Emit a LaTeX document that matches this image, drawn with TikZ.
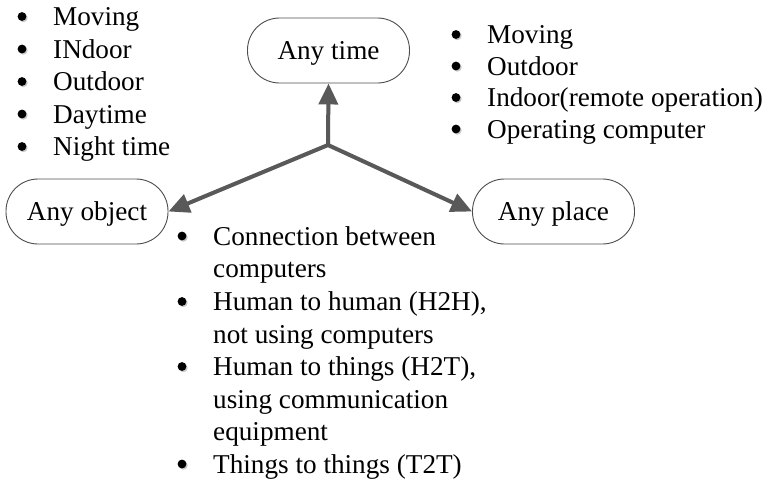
\documentclass[tikz,border=0pt]{standalone}
\usepackage{fontspec}
\setmainfont{Liberation Serif}
\usetikzlibrary{arrows.meta,calc}
\definecolor{arrowgray}{HTML}{595959}
\definecolor{shadegray}{HTML}{E4E4E4}
\definecolor{framegray}{HTML}{4D4D4D}

% bullet with a soft shadow
\newcommand{\bulletat}[2]{%
  \fill[dotshade] (#1+1.3,#2-9+1.3) circle (4.4);
  \fill[dot] (#1,#2-9) circle (4.4);}

\begin{document}
\begin{tikzpicture}[x=1pt,y=-1pt,
  every node/.style={font=\fontsize{27.2}{32}\selectfont, inner sep=0pt},
  oval/.style={draw=framegray, line width=0.9pt, rounded corners=32pt,
    minimum width=162pt, minimum height=65pt, fill=white,
    text height=20pt, text depth=3pt},
  link/.style={line width=4pt, draw=arrowgray},
  tip/.style={-{Triangle[length=21pt,width=19pt]}},
  linkshade/.style={line width=4pt, draw=shadegray},
  item/.style={anchor=base west, text=black},
  dot/.style={fill=black},
  dotshade/.style={fill=black!22},
]
\useasboundingbox (0,0) rectangle (766,482);

% the three goals
\node[oval] (time)  at (328.5,50.5)  {Any time};
\node[oval] (obj)   at (87,211.5)    {Any object};
\node[oval] (place) at (553.5,211.5) {Any place};

% junction of the three arrows
\coordinate (J) at (328,145);

% soft shadow under the arrow shafts
\begin{scope}[shift={(2.5,2.5)}]
  \draw[linkshade, line join=miter] ($(J)!0.85!(obj.east)$) -- (J) -- ($(J)!0.85!(place.west)$);
  \draw[linkshade] (J) -- ($(J)!0.65!(time.south)$);
\end{scope}

% arrows
\draw[link, line join=miter, {Triangle[length=21pt,width=19pt]}-{Triangle[length=21pt,width=19pt]}]
  (obj.east) -- (J) -- (place.west);
\draw[link, tip] (J) -- (time.south);

% list beside "Any time" (left)
\foreach \txt/\yy [count=\i] in {Moving/25.5, INdoor/58, Outdoor/90.5, Daytime/123, Night time/155.5}{
  \bulletat{22}{\yy}
  \node[item] (L\i) at (53,\yy) {\txt};
}

% list beside "Any time" (right)
\foreach \txt/\yy [count=\i] in {Moving/43.5, Outdoor/75, Indoor(remote operation)/106.5, Operating computer/138}{
  \bulletat{456}{\yy}
  \node[item] (R\i) at (487,\yy) {\txt};
}

% list below the arrows
\foreach \txt/\yy [count=\i] in {Connection between/245, computers/277.5, {Human to human (H2H),}/310.5, not using computers/343, {Human to things (H2T),}/375.5, using communication/408, equipment/440.5, Things to things (T2T)/473}{
  \node[item] (B\i) at (213,\yy) {\txt};
}
\foreach \yy in {245, 310.5, 375.5, 473}{
  \bulletat{182}{\yy}
}
\end{tikzpicture}
\end{document}
